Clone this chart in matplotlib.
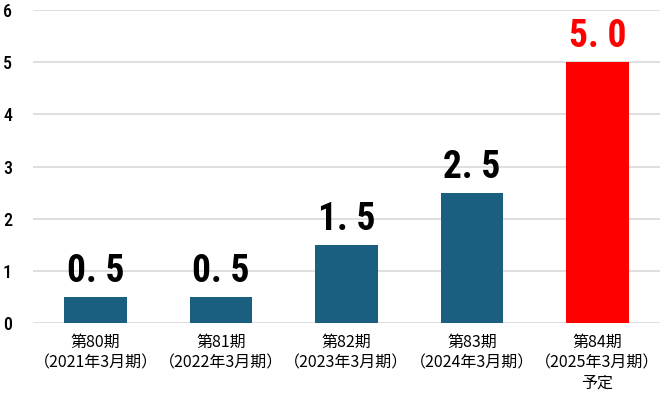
import matplotlib.pyplot as plt

periods = ['第80期\n（2021年3月期）', '第81期\n（2022年3月期）', '第82期\n（2023年3月期）',
           '第83期\n（2024年3月期）', '第84期\n（2025年3月期）\n予定']
values = [0.5, 0.5, 1.5, 2.5, 5.0]
value_labels = ['0. 5', '0. 5', '1. 5', '2. 5', '5. 0']
colors = ['#1a5e80', '#1a5e80', '#1a5e80', '#1a5e80', '#ff0000']
label_colors = ['black', 'black', 'black', 'black', '#ff0000']

narrow = ['Roboto Condensed', 'Oswald', 'Barlow Condensed', 'DejaVu Sans']
plt.rcParams['font.family'] = ['Noto Sans CJK JP', 'DejaVu Sans']

fig = plt.figure(figsize=(6.71, 3.99), dpi=100)
ax = fig.add_axes([33 / 671, 1 - 323 / 399, 627 / 671, 313 / 399])

x = range(len(values))
ax.bar(x, values, width=0.5, color=colors, zorder=3)

# value labels above each bar
for i, v in enumerate(values):
    ax.text(i, v + 0.13, value_labels[i], ha='center', va='bottom',
            fontsize=27, fontweight='bold', color=label_colors[i],
            family=narrow)

ax.set_ylim(0, 6)
ax.set_xlim(-0.5, 4.5)
ax.set_yticks(range(7))
ax.set_xticks(list(x))
ax.set_xticklabels(periods, fontsize=11.5, linespacing=1.25)
ax.set_yticklabels([str(t) for t in range(7)], family=narrow, fontsize=13,
                   fontweight='medium')
ax.tick_params(axis='both', length=0)
ax.tick_params(axis='y', pad=15)
ax.tick_params(axis='x', pad=8)
ax.grid(axis='y', color='#d9d9d9', linewidth=1.2, zorder=0)
for s in ax.spines.values():
    s.set_visible(False)

fig.savefig('out.png', dpi=100)
